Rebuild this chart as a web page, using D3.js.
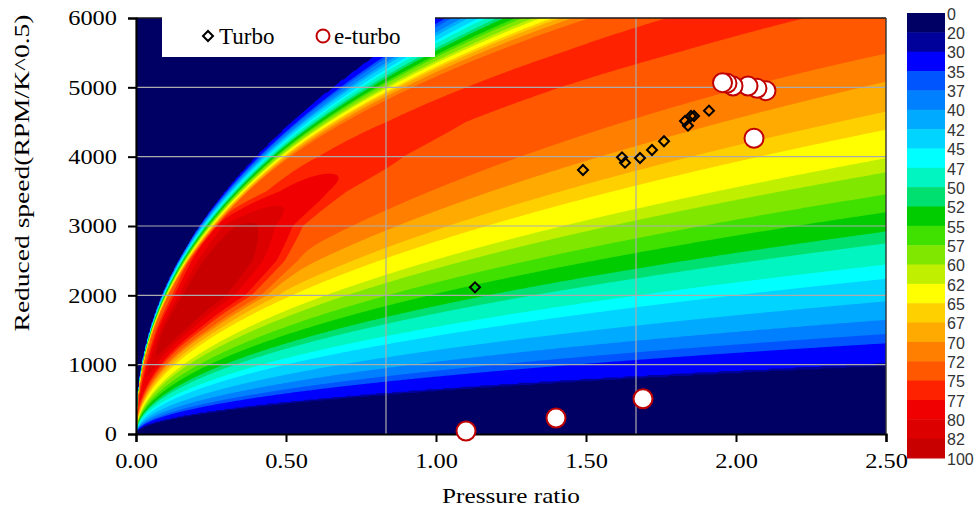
<!DOCTYPE html>
<html>
<head>
<meta charset="utf-8">
<script src="https://cdn.jsdelivr.net/npm/d3@7"></script>
<style>
  html, body { margin: 0; padding: 0; background: #fff; }
  svg { display: block; }
</style>
</head>
<body>
<svg id="chart" width="977" height="508"></svg>
<script>
// Efficiency contour levels (%) and the colour of each band between two levels
const levels = [0, 20, 30, 35, 37, 40, 42, 45, 47, 50, 52, 55, 57, 60, 62, 65, 67, 70, 72, 75, 77, 80, 82, 100];
const bandColors = ['#000064', '#00009a', '#0000ff', '#0055ff', '#0080ff', '#00aaff', '#00d4ff', '#00ffff',
                    '#00f5c0', '#00e070', '#00cc00', '#40e000', '#80e800', '#c0f000', '#ffff00', '#ffd000',
                    '#ffaa00', '#ff8000', '#ff5800', '#ff2200', '#f00000', '#dd0000', '#c80000'];

// Measured operating points
const turboPR    = [1.13, 1.49, 1.62, 1.63, 1.68, 1.72, 1.76, 1.83, 1.84, 1.85, 1.86, 1.91];
const turboSpeed = [2116, 3808, 3991, 3913, 3981, 4096, 4222, 4514, 4447, 4587, 4587, 4663];
const eturboPR    = [1.10, 1.40, 1.69, 2.06, 2.10, 2.07, 2.04, 1.99, 1.97, 1.955];
const eturboSpeed = [43, 231, 509, 4265, 4952, 4986, 5019, 5019, 5058, 5067];

// Axes
const prTicks = [0, 0.5, 1.0, 1.5, 2.0, 2.5];
const speedTicks = [0, 1000, 2000, 3000, 4000, 5000, 6000];
const prGrid = [0.8333, 1.6667];

// Efficiency map
// background efficiency against the speed parameter N / PR^0.5
const baseRatio = [0, 300, 580, 625, 640, 827, 1040, 1253, 1481, 1739, 1982, 2226, 2515, 2819, 3153, 3533, 3900, 4500, 7000];
const baseEta   = [0, 10, 18, 19.5, 30, 35, 40, 42.5, 46, 50, 54.5, 57.5, 62, 65.5, 69.6, 72, 73.3, 74, 74];
// best-efficiency ridge at each reduced speed: peak value, its speed parameter and its sharpness
const speedKnots = [0, 500, 1000, 1500, 2000, 2500, 3000, 3500, 4000, 4500, 5000, 5500, 6000];
const ridgePeak  = [72, 78, 81.2, 84.4, 85.4, 84.7, 82.4, 78.3, 75.7, 75.12, 75.05, 75.04, 75.04];
const ridgeRatio = [4300, 4300, 4300, 4300, 4300, 4600, 4950, 4700, 4650, 4580, 4450, 4320, 4230];
const ridgeSharp = [80, 80, 100, 110, 125, 145, 175, 250, 110, 90, 85, 82, 80];
// drop-off towards the map limit
const fallRate  = [1.4, 1.5, 1.6, 1.75, 1.85, 1.95, 2.0, 2.1, 2.1, 1.85, 1.6, 1.42, 1.27];
const fallKnots = [0, 0.1, 0.2, 0.3, 0.4, 0.5, 0.6, 0.7, 0.8, 0.9, 1.0];
const fallShape = [0.39, 0.49, 0.59, 0.69, 0.80, 0.91, 0.96, 0.98, 0.99, 0.997, 1.0];
const limitSpeed = 6050;   // reduced speed on the map limit at PR = 1
const limitExp = 0.45;     // map limit follows N ~ PR^limitExp

// ---------------------------------------------------------------------------
const svg = d3.select('#chart');
const plot = { left: 136, top: 18, right: 886, bottom: 434 };

const x = d3.scaleLinear().domain([0, 2.5]).range([plot.left, plot.right]);
const y = d3.scaleLinear().domain([0, 6000]).range([plot.bottom, plot.top]);
const prMax = x.domain()[1], speedMax = y.domain()[1];

const baseOf  = d3.scaleLinear().domain(baseRatio).range(baseEta).clamp(true);
const peakOf  = d3.scaleLinear().domain(speedKnots).range(ridgePeak).clamp(true);
const ridgeOf = d3.scaleLinear().domain(speedKnots).range(ridgeRatio).clamp(true);
const sharpOf = d3.scaleLinear().domain(speedKnots).range(ridgeSharp).clamp(true);
const rateOf  = d3.scaleLinear().domain(speedKnots).range(fallRate).clamp(true);
const fallOf  = d3.scaleLinear().domain(fallKnots).range(fallShape).clamp(true);

const softMax = (a, b, t) => { const m = Math.max(a, b); return m + t * Math.log(Math.exp((a - m) / t) + Math.exp((b - m) / t)); };
const softMin = (a, b, t) => { const m = Math.min(a, b); return m - t * Math.log(Math.exp((m - a) / t) + Math.exp((m - b) / t)); };

function efficiency(pr, n) {
  if (pr <= 0 || n <= 0) return 0;
  const w = Math.log(pr) - Math.log(n / limitSpeed) / limitExp;
  if (w < 0) return 0;
  const r = n / Math.sqrt(pr);
  const lu = Math.log(r / ridgeOf(n));
  const peak = peakOf(n);
  const hill = peak - sharpOf(n) * lu * lu;
  const cap = (peak + 2) * fallOf(w * rateOf(n));
  return Math.max(0, softMin(softMax(baseOf(r), hill, 0.9), cap, 0.4));
}

// sample the map on a regular grid and contour it
const nx = 500, ny = 320;
const values = new Float64Array(nx * ny);
for (let j = 0; j < ny; j++) {
  const n = speedMax * (1 - (j + 0.5) / ny);
  for (let i = 0; i < nx; i++) {
    values[j * nx + i] = efficiency(prMax * (i + 0.5) / nx, n);
  }
}
const bands = d3.contours().size([nx, ny]).thresholds(levels.slice(1, -1))(values);

const toScreen = d3.geoTransform({
  point(px, py) { this.stream.point(x(px / nx * prMax), y(speedMax * (1 - py / ny))); }
});
const path = d3.geoPath(toScreen);

svg.append('clipPath').attr('id', 'plot-clip')
  .append('rect')
  .attr('x', plot.left).attr('y', plot.top)
  .attr('width', plot.right - plot.left).attr('height', plot.bottom - plot.top);

const field = svg.append('g').attr('clip-path', 'url(#plot-clip)');
field.append('rect')
  .attr('x', plot.left).attr('y', plot.top)
  .attr('width', plot.right - plot.left).attr('height', plot.bottom - plot.top)
  .attr('fill', bandColors[0]);
field.selectAll('path.band')
  .data(bands)
  .join('path')
  .attr('class', 'band')
  .attr('d', path)
  .attr('fill', (d, i) => bandColors[i + 1]);

// grid lines
const grid = svg.append('g').attr('stroke', '#ababab').attr('stroke-width', 1.2);
grid.selectAll('line.h')
  .data(speedTicks.slice(1, -1))
  .join('line')
  .attr('x1', plot.left).attr('x2', plot.right)
  .attr('y1', d => y(d)).attr('y2', d => y(d));
grid.selectAll('line.v')
  .data(prGrid)
  .join('line')
  .attr('y1', plot.top).attr('y2', plot.bottom)
  .attr('x1', d => x(d)).attr('x2', d => x(d));

// frame
svg.append('line').attr('x1', plot.left).attr('x2', plot.right).attr('y1', plot.top).attr('y2', plot.top)
  .attr('stroke', '#1a1a1a').attr('stroke-width', 1.6);
svg.append('line').attr('x1', plot.right).attr('x2', plot.right).attr('y1', plot.top).attr('y2', plot.bottom)
  .attr('stroke', '#333').attr('stroke-width', 1.4);

// axes
const stretch = (sel, f) => sel.each(function () {
  const len = this.getComputedTextLength();
  this.setAttribute('textLength', len * f);
  this.setAttribute('lengthAdjust', 'spacingAndGlyphs');
});

const xAxis = svg.append('g')
  .attr('transform', `translate(0,${plot.bottom})`)
  .call(d3.axisBottom(x).tickValues(prTicks).tickFormat(d3.format('.2f')).tickSize(8).tickPadding(12));
const yAxis = svg.append('g')
  .attr('transform', `translate(${plot.left},0)`)
  .call(d3.axisLeft(y).tickValues(speedTicks).tickFormat(d3.format('d')).tickSize(8).tickPadding(12));

[xAxis, yAxis].forEach(ax => {
  ax.select('.domain').attr('stroke', '#000').attr('stroke-width', 2.2);
  ax.selectAll('.tick line').attr('stroke', '#000').attr('stroke-width', 2);
  ax.selectAll('.tick text')
    .attr('fill', '#000')
    .style('font-family', '"Liberation Serif", "Times New Roman", serif')
    .style('font-size', '20px');
});
yAxis.selectAll('.tick text').attr('dy', '0.34em').attr('x', -19);
xAxis.selectAll('.tick text').attr('dy', '0.72em');
stretch(xAxis.selectAll('.tick text'), 1.22);
stretch(yAxis.selectAll('.tick text'), 1.22);

// axis titles
const xTitle = svg.append('text')
  .attr('x', (plot.left + plot.right) / 2).attr('y', 503)
  .attr('text-anchor', 'middle')
  .style('font-family', '"Liberation Serif", "Times New Roman", serif')
  .style('font-size', '21px')
  .text('Pressure ratio');
stretch(xTitle, 1.2);

const yTitle = svg.append('text')
  .attr('transform', 'translate(29,173) rotate(-90)')
  .attr('text-anchor', 'middle')
  .style('font-family', '"Liberation Serif", "Times New Roman", serif')
  .style('font-size', '22px')
  .text('Reduced speed(RPM/K^0.5)');
stretch(yTitle, 1.25);

// operating points
const diamond = d3.symbol().type(d3.symbolSquare).size(50);
const pts = svg.append('g');
pts.selectAll('path.turbo')
  .data(turboPR.map((p, i) => [p, turboSpeed[i]]))
  .join('path')
  .attr('class', 'turbo')
  .attr('d', diamond)
  .attr('transform', d => `translate(${x(d[0])},${y(d[1])}) rotate(45)`)
  .attr('fill', 'none')
  .attr('stroke', '#000')
  .attr('stroke-width', 2);

pts.selectAll('circle.eturbo')
  .data(eturboPR.map((p, i) => [p, eturboSpeed[i]]))
  .join('circle')
  .attr('class', 'eturbo')
  .attr('cx', d => x(d[0]))
  .attr('cy', d => y(d[1]))
  .attr('r', 9.5)
  .attr('fill', '#fff')
  .attr('stroke', '#c00000')
  .attr('stroke-width', 2);

// legend
const legend = svg.append('g');
legend.append('rect').attr('x', 162).attr('y', 16).attr('width', 273).attr('height', 41).attr('fill', '#fff');
legend.append('path').attr('d', diamond).attr('transform', 'translate(208,36) rotate(45)')
  .attr('fill', '#fff').attr('stroke', '#000').attr('stroke-width', 2);
legend.append('circle').attr('cx', 323).attr('cy', 36).attr('r', 6.5)
  .attr('fill', '#fff').attr('stroke', '#c00000').attr('stroke-width', 2);
legend.selectAll('text')
  .data([[219, 'Turbo'], [334, 'e-turbo']])
  .join('text')
  .attr('x', d => d[0]).attr('y', 43.5)
  .style('font-family', '"Liberation Serif", "Times New Roman", serif')
  .style('font-size', '23px')
  .text(d => d[1]);

// colour scale
const cb = { left: 907, top: 13, width: 38, height: 445 };
const bandH = cb.height / bandColors.length;
const colorbar = svg.append('g');
colorbar.selectAll('rect')
  .data(bandColors)
  .join('rect')
  .attr('x', cb.left)
  .attr('y', (d, i) => cb.top + i * bandH)
  .attr('width', cb.width)
  .attr('height', bandH + 0.5)
  .attr('fill', d => d);
colorbar.selectAll('text')
  .data(levels)
  .join('text')
  .attr('x', cb.left + cb.width + 2)
  .attr('y', (d, i) => cb.top + i * bandH + 1)
  .attr('dy', '0.36em')
  .style('font-family', '"Liberation Sans", Arial, sans-serif')
  .style('font-size', '16px')
  .attr('fill', '#333')
  .text(d => d);
</script>
</body>
</html>
